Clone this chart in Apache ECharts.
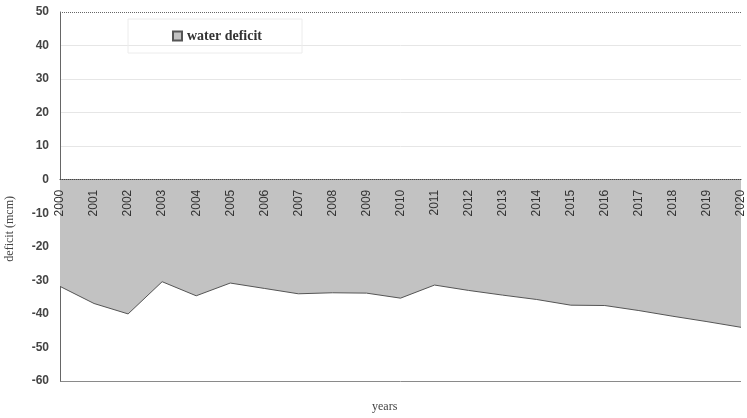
<!DOCTYPE html>
<html>
<head>
<meta charset="utf-8">
<script src="https://cdn.jsdelivr.net/npm/echarts@6/dist/echarts.min.js"></script>
<style>
  html, body { margin: 0; padding: 0; background: #fff; }
  #chart { width: 747px; height: 418px; }
</style>
</head>
<body>
<div id="chart"></div>
<script>
// Annual water deficit, 2000-2020 (million cubic metres)
const years = ['2000','2001','2002','2003','2004','2005','2006','2007','2008','2009','2010',
               '2011','2012','2013','2014','2015','2016','2017','2018','2019','2020'];
const waterDeficit = [-31.8, -36.9, -40, -30.4, -34.6, -30.8, -32.4, -34, -33.7, -33.8, -35.3,
                      -31.4, -33, -34.4, -35.7, -37.4, -37.5, -39, -40.7, -42.3, -44];
const seriesName = 'water deficit';
const yTitle = 'deficit (mcm)';
const xTitle = 'years';

const chart = echarts.init(document.getElementById('chart'));

// per-line colours for the horizontal grid, from -60 up to 50
const gridColours = ['#8a8a8a', 'transparent', 'transparent', 'transparent', 'transparent', 'transparent',
                     'transparent', '#e6e6e6', '#e6e6e6', '#e6e6e6', '#e6e6e6', 'transparent'];

// the category axis sits on the zero line: plot height 369px over 110 units, zero is 60 units up
const plotTop = 12, plotBottom = 37, plotHeight = 418 - plotTop - plotBottom;
const zeroOffset = plotHeight * 60 / 110;

chart.setOption({
  animation: false,
  backgroundColor: '#fff',
  grid: { left: 60, right: 0, top: plotTop, bottom: plotBottom },
  legend: {
    data: [{ name: seriesName, icon: 'rect' }],
    left: 128, top: 19,
    padding: [10, 40, 10, 44],
    itemWidth: 9, itemHeight: 9, itemGap: 4,
    borderColor: '#ececec', borderWidth: 1,
    textStyle: { fontFamily: 'Liberation Serif', fontSize: 14, fontWeight: 'bold', color: '#333' }
  },
  xAxis: {
    type: 'category',
    data: years,
    boundaryGap: false,
    position: 'bottom',
    offset: -zeroOffset,
    z: 10,
    axisLine: { onZero: false, lineStyle: { color: '#444', type: 'dotted', width: 1 } },
    axisTick: { show: false },
    axisLabel: {
      rotate: 90, margin: 10, interval: 0,
      fontFamily: 'Liberation Sans', fontSize: 12, color: '#333'
    },
    splitLine: { show: false }
  },
  yAxis: {
    type: 'value',
    min: -60, max: 50, interval: 10,
    axisLine: { show: true, lineStyle: { color: '#666' } },
    axisTick: { show: false },
    axisLabel: {
      margin: 11,
      fontFamily: 'Liberation Sans', fontSize: 12, fontWeight: 'bold', color: '#444'
    },
    splitLine: { show: true, lineStyle: { color: gridColours, width: 1 } }
  },
  graphic: [
    {
      type: 'text', left: 4, top: 196, rotation: Math.PI / 2,
      style: { text: yTitle, fontFamily: 'Liberation Serif', fontSize: 12, fill: '#444' }
    },
    {
      type: 'text', left: 372, top: 401,
      style: { text: xTitle, fontFamily: 'Liberation Serif', fontSize: 12, fill: '#444' }
    }
  ],
  series: [{
    name: seriesName,
    type: 'line',
    data: waterDeficit,
    symbol: 'none',
    lineStyle: { color: '#555', width: 1 },
    itemStyle: { color: '#c2c2c2', borderColor: '#555', borderWidth: 1 },
    areaStyle: { color: '#c2c2c2', opacity: 1 },
    markLine: {
      silent: true, symbol: 'none', label: { show: false },
      lineStyle: { color: '#666', type: 'dotted', width: 1 },
      data: [{ yAxis: 50 }]
    }
  }]
});
</script>
</body>
</html>
